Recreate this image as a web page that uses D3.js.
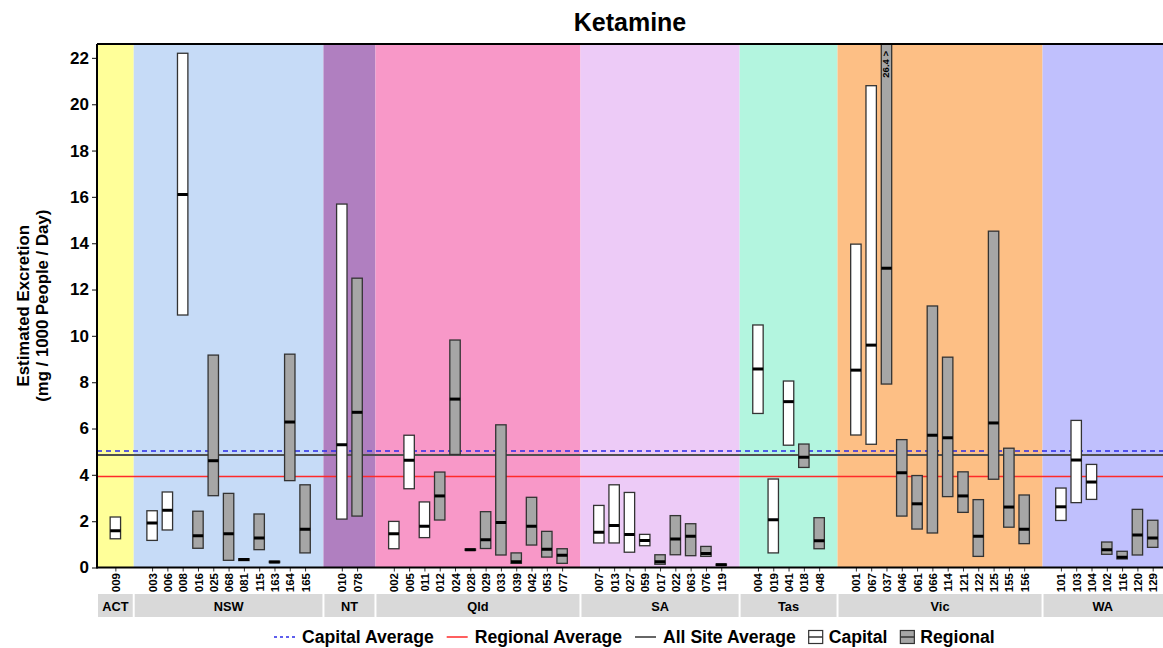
<!DOCTYPE html>
<html>
<head>
<meta charset="utf-8">
<script src="https://cdn.jsdelivr.net/npm/d3@7"></script>
<style>
  body { margin: 0; background: #fff; }
  text { font-family: "Liberation Sans", Arial, sans-serif; }
</style>
</head>
<body>
<div id="chart"></div>
<script>
// states (facets) and their background colours
var states = ["ACT", "NSW", "NT", "Qld", "SA", "Tas", "Vic", "WA"];
var stateColours = ["#FFFF99", "#C6DBF7", "#B07FC0", "#F898C8", "#EDCBF7", "#B3F5DF", "#FDBF85", "#C0C0FD"];

// sites, grouped by state
var siteIds = [
  "009",
  "003", "006", "008", "016", "025", "068", "081", "115", "163", "164", "165",
  "010", "078",
  "002", "005", "011", "012", "024", "028", "029", "033", "039", "042", "053", "077",
  "007", "013", "027", "059", "017", "022", "063", "076", "119",
  "004", "019", "041", "018", "048",
  "001", "067", "037", "046", "061", "066", "114", "121", "122", "125", "155", "156",
  "101", "103", "104", "102", "116", "120", "129"
];
var siteState = [
  "ACT",
  "NSW", "NSW", "NSW", "NSW", "NSW", "NSW", "NSW", "NSW", "NSW", "NSW", "NSW",
  "NT", "NT",
  "Qld", "Qld", "Qld", "Qld", "Qld", "Qld", "Qld", "Qld", "Qld", "Qld", "Qld", "Qld",
  "SA", "SA", "SA", "SA", "SA", "SA", "SA", "SA", "SA",
  "Tas", "Tas", "Tas", "Tas", "Tas",
  "Vic", "Vic", "Vic", "Vic", "Vic", "Vic", "Vic", "Vic", "Vic", "Vic", "Vic", "Vic",
  "WA", "WA", "WA", "WA", "WA", "WA", "WA"
];
var siteType = [
  "Capital",
  "Capital", "Capital", "Capital", "Regional", "Regional", "Regional", "Regional", "Regional", "Regional", "Regional", "Regional",
  "Capital", "Regional",
  "Capital", "Capital", "Capital", "Regional", "Regional", "Regional", "Regional", "Regional", "Regional", "Regional", "Regional", "Regional",
  "Capital", "Capital", "Capital", "Capital", "Regional", "Regional", "Regional", "Regional", "Regional",
  "Capital", "Capital", "Capital", "Regional", "Regional",
  "Capital", "Capital", "Regional", "Regional", "Regional", "Regional", "Regional", "Regional", "Regional", "Regional", "Regional", "Regional",
  "Capital", "Capital", "Capital", "Regional", "Regional", "Regional", "Regional"
];
// lower quartile, median, upper quartile (mg / 1000 people / day)
var lower = [
  1.24,
  1.17, 1.62, 10.9, 0.83, 3.10, 0.31, 0.30, 0.77, 0.21, 3.75, 0.63,
  2.09, 2.22,
  0.81, 3.40, 1.29, 2.05, 4.88, 0.74, 0.82, 0.54, 0.18, 0.97, 0.45, 0.18,
  1.06, 1.06, 0.66, 0.94, 0.14, 0.55, 0.51, 0.48, 0.09,
  6.65, 0.63, 5.28, 4.32, 0.81,
  5.72, 5.32, 7.92, 2.22, 1.66, 1.49, 3.06, 2.38, 0.48, 3.81, 1.74, 1.03,
  2.03, 2.80, 2.94, 0.57, 0.37, 0.54, 0.87
];
var median = [
  1.59,
  1.92, 2.47, 16.1, 1.37, 4.61, 1.46, 0.34, 1.27, 0.24, 6.28, 1.65,
  5.30, 6.70,
  1.46, 4.63, 1.78, 3.09, 7.27, 0.77, 1.20, 1.94, 0.25, 1.78, 0.79, 0.53,
  1.52, 1.81, 1.42, 1.17, 0.25, 1.23, 1.35, 0.60, 0.12,
  8.57, 2.06, 7.16, 4.76, 1.15,
  8.52, 9.60, 12.92, 4.09, 2.75, 5.71, 5.60, 3.09, 1.35, 6.24, 2.61, 1.65,
  2.62, 4.64, 3.69, 0.77, 0.44, 1.40, 1.27
];
var upper = [
  2.18,
  2.45, 3.26, 22.2, 2.43, 9.17, 3.20, 0.38, 2.31, 0.27, 9.21, 3.57,
  15.69, 12.49,
  1.99, 5.71, 2.83, 4.12, 9.82, 0.80, 2.41, 6.16, 0.63, 3.03, 1.56, 0.81,
  2.68, 3.57, 3.24, 1.43, 0.55, 2.24, 1.89, 0.91, 0.15,
  10.47, 3.82, 8.05, 5.33, 2.15,
  13.96, 20.8, 26.4, 5.52, 3.97, 11.29, 9.08, 4.13, 2.93, 14.52, 5.15, 3.13,
  3.43, 6.35, 4.45, 1.10, 0.70, 2.51, 2.04
];

// reference lines
var averageNames = ["Capital Average", "Regional Average", "All Site Average"];
var averageValues = [5.03, 3.93, 4.86];
var averageColours = ["#2a2ae8", "#ff2a2a", "#505050"];

var yTicks = [0, 2, 4, 6, 8, 10, 12, 14, 16, 18, 20, 22];
var yMax = 22.6;

var W = 1163, H = 648;
var margin = {top: 44, left: 97, bottom: 81};
var expandUnits = 1.2;   // padding on each side of a facet, in site units
var unitPx = 15.3;

var svg = d3.select("#chart").append("svg")
    .attr("width", W)
    .attr("height", H);

// facet layout in "site units"
var facets = [];
var cursor = 0;
states.forEach(function(s, i) {
  var n = siteState.filter(function(d) { return d === s; }).length;
  var width = (n - 1) + 2 * expandUnits;
  facets.push({state: s, colour: stateColours[i], start: cursor, end: cursor + width, n: n});
  cursor += width;
});
var totalUnits = cursor;

var sites = siteIds.map(function(id, i) {
  return {id: id, state: siteState[i], type: siteType[i], lo: lower[i], med: median[i], hi: upper[i]};
});
var counters = {};
sites.forEach(function(d) {
  var f = facets.find(function(ff) { return ff.state === d.state; });
  counters[d.state] = (counters[d.state] || 0);
  d.pos = f.start + expandUnits + counters[d.state];
  counters[d.state] += 1;
});

var x = d3.scaleLinear()
    .domain([0, totalUnits])
    .range([margin.left, margin.left + totalUnits * unitPx]);
var y = d3.scaleLinear()
    .domain([0, yMax])
    .range([H - margin.bottom + 0.5, margin.top]);

svg.append("defs").append("clipPath").attr("id", "panel")
  .append("rect")
    .attr("x", margin.left).attr("y", margin.top)
    .attr("width", x(totalUnits) - margin.left)
    .attr("height", y(0) - margin.top);

var panel = svg.append("g").attr("clip-path", "url(#panel)");

// facet backgrounds
panel.selectAll("rect.bg").data(facets).enter().append("rect")
    .attr("class", "bg")
    .attr("x", function(d) { return x(d.start); })
    .attr("width", function(d) { return x(d.end) - x(d.start); })
    .attr("y", margin.top)
    .attr("height", y(0) - margin.top)
    .attr("fill", function(d) { return d.colour; });

// average lines
averageValues.forEach(function(v, i) {
  panel.append("line")
    .attr("x1", margin.left).attr("x2", x(totalUnits))
    .attr("y1", y(v)).attr("y2", y(v))
    .attr("stroke", averageColours[i])
    .attr("stroke-width", i === 2 ? 2 : 1.4)
    .attr("stroke-dasharray", i === 0 ? "5,4" : null);
});

// boxes
var boxW = 0.68;
var boxes = panel.selectAll("g.box").data(sites).enter().append("g").attr("class", "box");
boxes.append("rect")
    .attr("x", function(d) { return x(d.pos - boxW / 2); })
    .attr("width", x(boxW) - x(0))
    .attr("y", function(d) { return y(d.hi); })
    .attr("height", function(d) { return y(d.lo) - y(d.hi); })
    .attr("fill", function(d) { return d.type === "Capital" ? "#ffffff" : "#a6a6a6"; })
    .attr("stroke", "#333")
    .attr("stroke-width", 1.3);
boxes.append("line")
    .attr("x1", function(d) { return x(d.pos - boxW / 2); })
    .attr("x2", function(d) { return x(d.pos + boxW / 2); })
    .attr("y1", function(d) { return y(d.med); })
    .attr("y2", function(d) { return y(d.med); })
    .attr("stroke", "#000")
    .attr("stroke-width", 3);

// label for values running off the top
sites.filter(function(d) { return d.hi > yMax; }).forEach(function(d) {
  svg.append("text")
    .attr("transform", "translate(" + (x(d.pos) + 3) + "," + (margin.top + 7) + ") rotate(-90)")
    .attr("text-anchor", "end")
    .attr("font-size", 9.5)
    .attr("font-weight", "bold")
    .text(d.hi + " >");
});

// axes
var yAxis = svg.append("g")
    .attr("transform", "translate(" + margin.left + ",0)")
    .call(d3.axisLeft(y).tickValues(yTicks).tickSize(5).tickPadding(3));
yAxis.select(".domain").remove();
yAxis.selectAll("line").attr("stroke", "#333").attr("stroke-width", 1.2);
yAxis.selectAll("text")
    .attr("font-size", 17)
    .attr("font-weight", "bold")
    .attr("font-family", "Liberation Sans, Arial, sans-serif")
    .attr("fill", "#000");

var xAxis = svg.append("g")
    .attr("transform", "translate(0," + y(0) + ")")
    .call(d3.axisBottom(x).tickValues(sites.map(function(d) { return d.pos; }))
      .tickFormat(function(v, i) { return sites[i].id; })
      .tickSize(4).tickPadding(2));
xAxis.select(".domain").remove();
xAxis.selectAll("line").attr("stroke", "#333");
xAxis.selectAll("text")
    .attr("font-size", 11.5)
    .attr("font-weight", "bold")
    .attr("font-family", "Liberation Sans, Arial, sans-serif")
    .attr("fill", "#000")
    .attr("text-anchor", "end")
    .attr("dy", "0.35em")
    .attr("transform", "translate(0,5.5) rotate(-90)")
    .attr("x", 0).attr("y", 0);

// panel border lines (left, bottom, top)
svg.append("line").attr("x1", margin.left).attr("x2", margin.left)
  .attr("y1", margin.top).attr("y2", y(0) + 1).attr("stroke", "#000").attr("stroke-width", 2);
svg.append("line").attr("x1", margin.left).attr("x2", W)
  .attr("y1", y(0)).attr("y2", y(0)).attr("stroke", "#000").attr("stroke-width", 2);
svg.append("line").attr("x1", margin.left).attr("x2", W)
  .attr("y1", margin.top).attr("y2", margin.top).attr("stroke", "#000").attr("stroke-width", 2);

// strips
var strip = svg.selectAll("g.strip").data(facets).enter().append("g").attr("class", "strip");
strip.append("rect")
    .attr("x", function(d) { return x(d.start) + 1; })
    .attr("width", function(d) { return x(d.end) - x(d.start) - 2; })
    .attr("y", 594).attr("height", 23)
    .attr("fill", "#d9d9d9");
strip.append("text")
    .attr("x", function(d) { return Math.min((x(d.start) + x(d.end)) / 2, (x(d.start) + W) / 2); })
    .attr("y", 610.5)
    .attr("text-anchor", "middle")
    .attr("font-size", 12.8)
    .attr("font-weight", "bold")
    .text(function(d) { return d.state; });

// title
svg.append("text")
    .attr("x", 630).attr("y", 31)
    .attr("text-anchor", "middle")
    .attr("font-size", 25)
    .attr("font-weight", "bold")
    .text("Ketamine");

// y title
var yTitle = svg.append("text")
    .attr("transform", "translate(29," + ((margin.top + y(0)) / 2) + ") rotate(-90)")
    .attr("text-anchor", "middle")
    .attr("font-size", 16.8)
    .attr("font-weight", "bold");
yTitle.append("tspan").attr("x", 0).attr("dy", 0).text("Estimated Excretion");
yTitle.append("tspan").attr("x", 0).attr("dy", 19).text("(mg / 1000 People / Day)");

// legend
var legend = svg.append("g");
var lx = 274, ly = 637;
var legendItems = [
  {label: averageNames[0], kind: "line", colour: averageColours[0], dash: "3,3"},
  {label: averageNames[1], kind: "line", colour: averageColours[1]},
  {label: averageNames[2], kind: "line", colour: "#333"},
  {label: "Capital", kind: "box", fill: "#ffffff"},
  {label: "Regional", kind: "box", fill: "#a6a6a6"}
];
legendItems.forEach(function(item) {
  if (item.kind === "line") {
    legend.append("line")
      .attr("x1", lx).attr("x2", lx + 21)
      .attr("y1", ly).attr("y2", ly)
      .attr("stroke", item.colour)
      .attr("stroke-width", 1.5)
      .attr("stroke-dasharray", item.dash || null);
    lx += 28;
  } else {
    legend.append("rect")
      .attr("x", lx).attr("y", ly - 6.5).attr("width", 14).attr("height", 13)
      .attr("fill", item.fill).attr("stroke", "#333").attr("stroke-width", 1.2);
    legend.append("line")
      .attr("x1", lx).attr("x2", lx + 14).attr("y1", ly).attr("y2", ly)
      .attr("stroke", "#333").attr("stroke-width", 1.5);
    lx += 20;
  }
  var t = legend.append("text")
    .attr("x", lx).attr("y", ly + 6.3)
    .attr("font-size", 17.6)
    .attr("font-weight", "bold")
    .text(item.label);
  lx += t.node().getComputedTextLength() + 13;
});
</script>
</body>
</html>
